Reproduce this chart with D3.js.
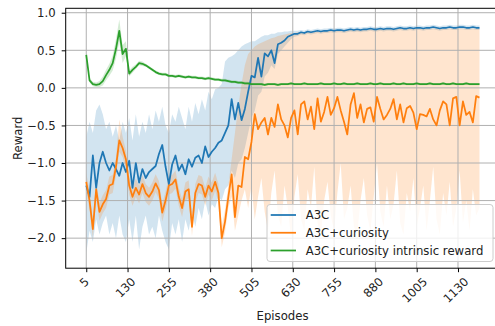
<!DOCTYPE html>
<html>
<head>
<meta charset="utf-8">
<script src="https://cdn.jsdelivr.net/npm/d3@7"></script>
<style>
  html, body { margin: 0; padding: 0; background: #fff; }
  svg { display: block; font-family: "DejaVu Sans", sans-serif; }
</style>
</head>
<body>
<svg id="chart" width="495" height="326"></svg>
<script>
////////////////////////////////////////////////////////////////////////////////
// Data (one value every 10 episodes)
var episodes = d3.range(5, 1200, 10)   // 5 .. 1195

var seriesNames = ["A3C", "A3C+curiosity", "A3C+curiosity intrinsic reward"]
var xTicks = [5, 130, 255, 380, 505, 630, 755, 880, 1005, 1130]
var yTicks = [-2.0, -1.5, -1.0, -0.5, 0.0, 0.5, 1.0]

var a3cMean = [
  -1.30, -1.45, -0.90, -1.33, -1.00, -0.85, -1.00, -1.10, -1.00, -1.08,
  -1.17, -1.00, -1.12, -0.97, -1.33, -1.00, -1.26, -1.08, -1.20, -1.12,
  -1.08, -1.04, -0.88, -0.76, -1.05, -1.28, -1.02, -0.90, -1.10, -1.02,
  -1.15, -0.95, -1.05, -0.93, -0.90, -1.00, -0.78, -0.92, -0.85, -0.80,
  -0.73, -0.70, -0.60, -0.50, -0.15, -0.42, -0.20, -0.43, -0.28, -0.05,
  0.16, 0.14, 0.40, 0.15, 0.46, 0.42, 0.50, 0.33, 0.58, 0.60,
  0.63, 0.68, 0.70, 0.72, 0.72, 0.74, 0.73, 0.75, 0.74, 0.75,
  0.76, 0.75, 0.76, 0.76, 0.77, 0.76, 0.77, 0.77, 0.76, 0.77,
  0.78, 0.77, 0.78, 0.77, 0.78, 0.78, 0.79, 0.78, 0.78, 0.79,
  0.78, 0.79, 0.79, 0.78, 0.79, 0.80, 0.79, 0.79, 0.80, 0.79,
  0.80, 0.80, 0.79, 0.80, 0.80, 0.81, 0.80, 0.79, 0.80, 0.80,
  0.81, 0.80, 0.80, 0.81, 0.81, 0.80, 0.80, 0.81, 0.80, 0.80
]
var a3cLo = [
  -2.20, -1.90, -2.05, -1.75, -1.95, -1.80, -1.70, -1.95, -1.80, -2.00,
  -1.70, -1.95, -2.05, -1.75, -2.05, -1.70, -2.15, -1.85, -1.70, -1.95,
  -1.85, -2.00, -1.70, -1.90, -2.05, -2.15, -1.80, -1.95, -1.75, -2.05,
  -1.75, -1.90, -1.65, -1.85, -1.60, -1.75, -1.50, -1.70, -1.55, -1.60,
  -1.45, -1.50, -1.35, -1.30, -1.10, -1.20, -1.00, -0.95, -0.80, -0.60,
  -0.40, -0.30, -0.10, -0.05, 0.15, 0.20, 0.30, 0.25, 0.45, 0.50,
  0.55, 0.60, 0.65, 0.68, 0.69, 0.71, 0.70, 0.72, 0.71, 0.72,
  0.73, 0.72, 0.73, 0.73, 0.74, 0.73, 0.74, 0.74, 0.73, 0.74,
  0.75, 0.74, 0.75, 0.74, 0.75, 0.75, 0.76, 0.75, 0.75, 0.76,
  0.75, 0.76, 0.76, 0.75, 0.76, 0.77, 0.76, 0.76, 0.77, 0.76,
  0.77, 0.77, 0.76, 0.77, 0.77, 0.78, 0.77, 0.76, 0.77, 0.77,
  0.78, 0.77, 0.77, 0.78, 0.78, 0.77, 0.77, 0.78, 0.77, 0.77
]
var a3cHi = [
  -0.65, -0.45, -0.60, -0.30, -0.22, -0.35, -0.55, -0.45, -0.65, -0.50,
  -0.70, -0.45, -0.60, -0.40, -0.70, -0.35, -0.65, -0.45, -0.60, -0.35,
  -0.55, -0.30, -0.45, -0.25, -0.50, -0.60, -0.35, -0.45, -0.25, -0.40,
  -0.55, -0.25, -0.45, -0.20, -0.35, -0.15, -0.30, -0.05, -0.15, -0.02,
  0.00, 0.05, 0.35, 0.40, 0.42, 0.45, 0.50, 0.55, 0.58, 0.60,
  0.62, 0.62, 0.65, 0.68, 0.70, 0.70, 0.72, 0.72, 0.74, 0.74,
  0.75, 0.75, 0.76, 0.76, 0.76, 0.77, 0.76, 0.78, 0.77, 0.78,
  0.79, 0.78, 0.79, 0.79, 0.80, 0.79, 0.80, 0.80, 0.79, 0.80,
  0.81, 0.80, 0.81, 0.80, 0.81, 0.81, 0.82, 0.81, 0.81, 0.82,
  0.81, 0.82, 0.82, 0.81, 0.82, 0.83, 0.82, 0.82, 0.83, 0.82,
  0.83, 0.83, 0.82, 0.83, 0.83, 0.84, 0.83, 0.82, 0.83, 0.83,
  0.84, 0.83, 0.83, 0.84, 0.84, 0.83, 0.83, 0.84, 0.83, 0.83
]

var curMean = [
  -1.25, -1.50, -1.88, -1.35, -1.65, -1.55, -1.48, -1.30, -1.28, -1.05,
  -0.70, -0.80, -0.95, -1.30, -1.45, -1.33, -1.42, -1.28, -1.40, -1.45,
  -1.38, -1.27, -1.36, -1.66, -1.50, -1.30, -1.28, -1.22, -1.45, -1.60,
  -1.38, -1.35, -1.85, -1.40, -1.28, -1.30, -1.45, -1.30, -1.38, -1.25,
  -1.40, -2.00, -1.78, -1.45, -1.15, -1.72, -1.30, -1.32, -0.92, -0.95,
  -0.72, -0.35, -0.55, -0.46, -0.40, -0.62, -0.40, -0.52, -0.22, -0.42,
  -0.50, -0.66, -0.40, -0.30, -0.62, -0.22, -0.18, -0.42, -0.25, -0.55,
  -0.14, -0.45, -0.32, -0.12, -0.36, -0.27, -0.12, -0.30, -0.45, -0.62,
  -0.22, -0.07, -0.40, -0.22, -0.46, -0.28, -0.26, -0.45, -0.12, -0.28,
  -0.42, -0.36, -0.28, -0.15, -0.42, -0.22, -0.46, -0.27, -0.24, -0.33,
  -0.55, -0.35, -0.36, -0.38, -0.28, -0.42, -0.50, -0.30, -0.18, -0.22,
  -0.50, -0.14, -0.12, -0.50, -0.18, -0.36, -0.32, -0.46, -0.11, -0.13
]
var curLo = [
  -1.37, -1.62, -2.00, -1.47, -1.77, -1.67, -1.60, -1.42, -1.40, -1.17,
  -0.85, -0.92, -1.07, -1.42, -1.57, -1.45, -1.54, -1.40, -1.52, -1.57,
  -1.50, -1.39, -1.48, -1.78, -1.62, -1.42, -1.40, -1.34, -1.57, -1.72,
  -1.50, -1.47, -1.97, -1.52, -1.40, -1.42, -1.57, -1.42, -1.50, -1.37,
  -1.52, -2.12, -1.92, -1.60, -1.45, -1.90, -1.70, -1.50, -1.35, -1.60,
  -1.30, -1.75, -1.45, -1.20, -1.65, -1.90, -1.40, -1.10, -1.70, -1.85,
  -1.30, -1.60, -2.00, -1.45, -1.15, -1.75, -1.90, -1.35, -1.60, -1.05,
  -1.80, -1.95, -1.50, -1.25, -1.70, -1.90, -1.40, -1.00, -1.75, -1.60,
  -1.30, -1.85, -1.95, -1.50, -1.20, -1.70, -1.90, -1.45, -1.00, -1.65,
  -1.85, -1.30, -1.75, -1.55, -1.10, -1.80, -1.95, -1.40, -1.65, -1.20,
  -1.85, -1.60, -1.30, -1.90, -1.50, -1.05, -1.75, -1.95, -1.40, -1.70,
  -1.25, -1.85, -1.60, -1.10, -1.80, -1.50, -1.90, -1.35, -1.70, -1.60
]
var curHi = [
  -1.13, -1.38, -1.76, -1.23, -1.53, -1.43, -1.36, -1.18, -1.16, -0.93,
  -0.42, -0.65, -0.83, -1.18, -1.33, -1.21, -1.30, -1.16, -1.28, -1.33,
  -1.26, -1.15, -1.24, -1.54, -1.38, -1.18, -1.16, -1.10, -1.33, -1.48,
  -1.26, -1.23, -1.73, -1.28, -1.16, -1.18, -1.33, -1.18, -1.26, -1.13,
  -1.28, -1.85, -1.62, -1.30, -0.95, -0.60, -0.25, 0.05, 0.30, 0.45,
  0.50, 0.55, 0.58, 0.60, 0.62, 0.64, 0.66, 0.67, 0.69, 0.70,
  0.71, 0.72, 0.73, 0.73, 0.74, 0.74, 0.74, 0.75, 0.75, 0.75,
  0.76, 0.75, 0.76, 0.76, 0.77, 0.76, 0.77, 0.77, 0.76, 0.77,
  0.77, 0.77, 0.78, 0.77, 0.78, 0.78, 0.78, 0.78, 0.78, 0.78,
  0.78, 0.78, 0.78, 0.78, 0.78, 0.79, 0.78, 0.78, 0.79, 0.78,
  0.79, 0.79, 0.78, 0.79, 0.79, 0.79, 0.79, 0.78, 0.79, 0.79,
  0.79, 0.79, 0.79, 0.79, 0.79, 0.79, 0.79, 0.79, 0.79, 0.79
]

var intMean = [
  0.44, 0.10, 0.05, 0.04, 0.05, 0.09, 0.17, 0.24, 0.33, 0.52,
  0.76, 0.45, 0.52, 0.19, 0.24, 0.28, 0.33, 0.32, 0.30, 0.27,
  0.24, 0.21, 0.19, 0.18, 0.18, 0.16, 0.16, 0.15, 0.16, 0.15,
  0.14, 0.15, 0.14, 0.14, 0.13, 0.13, 0.12, 0.13, 0.12, 0.11,
  0.11, 0.10, 0.10, 0.09, 0.08, 0.08, 0.07, 0.07, 0.06, 0.06,
  0.05, 0.05, 0.05, 0.05, 0.04, 0.05, 0.05, 0.05, 0.04, 0.05,
  0.05, 0.05, 0.06, 0.05, 0.05, 0.05, 0.06, 0.05, 0.05, 0.05,
  0.05, 0.06, 0.05, 0.05, 0.05, 0.06, 0.05, 0.05, 0.06, 0.05,
  0.05, 0.05, 0.06, 0.05, 0.05, 0.05, 0.06, 0.05, 0.05, 0.06,
  0.05, 0.05, 0.05, 0.06, 0.05, 0.05, 0.06, 0.05, 0.05, 0.05,
  0.06, 0.05, 0.05, 0.05, 0.06, 0.05, 0.05, 0.05, 0.06, 0.05,
  0.05, 0.06, 0.05, 0.05, 0.05, 0.06, 0.05, 0.05, 0.05, 0.05
]
var intSpread = [
  0.02, 0.03, 0.03, 0.03, 0.04, 0.06, 0.07, 0.08, 0.10, 0.13,
  0.15, 0.12, 0.10, 0.04, 0.04, 0.03, 0.03, 0.03, 0.02, 0.02,
  0.02, 0.02, 0.02, 0.02, 0.02, 0.02, 0.02, 0.02, 0.02, 0.02,
  0.02, 0.02, 0.02, 0.02, 0.02, 0.02, 0.02, 0.02, 0.02, 0.02,
  0.02, 0.02, 0.02, 0.02, 0.02, 0.02, 0.02, 0.02, 0.02, 0.02,
  0.015, 0.015, 0.015, 0.015, 0.015, 0.015, 0.015, 0.015, 0.015, 0.015,
  0.015, 0.015, 0.015, 0.015, 0.015, 0.015, 0.015, 0.015, 0.015, 0.015,
  0.015, 0.015, 0.015, 0.015, 0.015, 0.015, 0.015, 0.015, 0.015, 0.015,
  0.015, 0.015, 0.015, 0.015, 0.015, 0.015, 0.015, 0.015, 0.015, 0.015,
  0.015, 0.015, 0.015, 0.015, 0.015, 0.015, 0.015, 0.015, 0.015, 0.015,
  0.015, 0.015, 0.015, 0.015, 0.015, 0.015, 0.015, 0.015, 0.015, 0.015,
  0.015, 0.015, 0.015, 0.015, 0.015, 0.015, 0.015, 0.015, 0.015, 0.015
]

////////////////////////////////////////////////////////////////////////////////
// Layout
var colors = ["#1f77b4", "#ff7f0e", "#2ca02c"]
var fontSize = 11.7
var plot = {left: 65.7, right: 499.3, top: 8.3, bottom: 268.2}

var x = d3.scaleLinear().domain([-57.2, 1255]).range([plot.left, plot.right])
var y = d3.scaleLinear().domain([-2.4, 1.059]).range([plot.bottom, plot.top])

var series = [
  {name: seriesNames[0], color: colors[0], mean: a3cMean, lo: a3cLo, hi: a3cHi},
  {name: seriesNames[1], color: colors[1], mean: curMean, lo: curLo, hi: curHi},
  {name: seriesNames[2], color: colors[2], mean: intMean,
   lo: intMean.map((v, i) => v - intSpread[i]),
   hi: intMean.map((v, i) => v + intSpread[i])}
]
series.forEach(function(s) {
  s.rows = episodes.map((ep, i) => ({ep: ep, m: s.mean[i], lo: s.lo[i], hi: s.hi[i]}))
})

var svg = d3.select("#chart")
svg.append("rect").attr("width", 495).attr("height", 326).attr("fill", "#fff")

// bands
var area = d3.area()
  .x(d => x(d.ep))
  .y0(d => y(d.lo))
  .y1(d => y(d.hi))
svg.append("g").selectAll("path")
  .data(series)
  .join("path")
  .attr("d", s => area(s.rows))
  .attr("fill", s => s.color)
  .attr("fill-opacity", 0.2)

// grid
var grid = svg.append("g").attr("stroke", "#b0b0b0").attr("stroke-width", 1)
grid.selectAll("line.gx").data(xTicks).join("line")
  .attr("class", "gx")
  .attr("x1", d => x(d)).attr("x2", d => x(d))
  .attr("y1", plot.top).attr("y2", plot.bottom)
grid.selectAll("line.gy").data(yTicks).join("line")
  .attr("class", "gy")
  .attr("x1", plot.left).attr("x2", plot.right)
  .attr("y1", d => y(d)).attr("y2", d => y(d))

// mean lines
var line = d3.line().x(d => x(d.ep)).y(d => y(d.m))
svg.append("g").selectAll("path")
  .data(series)
  .join("path")
  .attr("d", s => line(s.rows))
  .attr("fill", "none")
  .attr("stroke", s => s.color)
  .attr("stroke-width", 1.75)
  .attr("stroke-linejoin", "round")

// axes
var xAxis = svg.append("g")
  .attr("transform", "translate(0," + plot.bottom + ")")
  .call(d3.axisBottom(x).tickValues(xTicks).tickFormat(d3.format("d"))
    .tickSize(4).tickSizeOuter(0))
xAxis.select(".domain").remove()
xAxis.selectAll("text")
  .attr("font-size", fontSize)
  .attr("font-family", "DejaVu Sans")
  .attr("fill", "#222")
  .attr("y", 0)
  .attr("dy", null)
  .attr("dominant-baseline", "central")
  .attr("text-anchor", "middle")
  .attr("transform", function() {
    var w = this.getComputedTextLength()
    var half = (w + 8.5) * 0.7071 / 2
    return "translate(-2.5," + (8.5 + half) + ") rotate(-45)"
  })

var yAxis = svg.append("g")
  .attr("transform", "translate(" + plot.left + ",0)")
  .call(d3.axisLeft(y).tickValues(yTicks).tickFormat(d3.format(".1f"))
    .tickSize(4).tickPadding(6).tickSizeOuter(0))
yAxis.select(".domain").remove()
yAxis.selectAll("text")
  .attr("font-size", fontSize)
  .attr("font-family", "DejaVu Sans")
  .attr("fill", "#222")
  .text(d => d3.format(".1f")(d).replace("-", "\u2212"))

// spines
var spines = svg.append("g").attr("stroke", "#000").attr("stroke-width", 1).attr("fill", "none")
spines.append("rect")
  .attr("x", plot.left).attr("y", plot.top)
  .attr("width", plot.right - plot.left).attr("height", plot.bottom - plot.top)

// axis titles
svg.append("text")
  .attr("x", (plot.left + plot.right) / 2).attr("y", 319.5)
  .attr("text-anchor", "middle")
  .attr("font-size", fontSize)
  .attr("fill", "#222")
  .text("Episodes")
svg.append("text")
  .attr("transform", "translate(21.5," + (plot.top + plot.bottom) / 2 + ") rotate(-90)")
  .attr("text-anchor", "middle")
  .attr("font-size", fontSize)
  .attr("fill", "#222")
  .text("Reward")

// legend
var legend = svg.append("g").attr("transform", "translate(267,204.5)")
legend.append("rect")
  .attr("width", 226).attr("height", 57)
  .attr("rx", 3)
  .attr("fill", "#fff").attr("fill-opacity", 0.8)
  .attr("stroke", "#cccccc").attr("stroke-width", 1)
var entry = legend.selectAll("g.entry")
  .data(series)
  .join("g")
  .attr("class", "entry")
  .attr("transform", (s, i) => "translate(0," + (10.5 + i * 17.75) + ")")
entry.append("line")
  .attr("x1", 3.7).attr("x2", 29)
  .attr("stroke", s => s.color)
  .attr("stroke-width", 1.75)
entry.append("text")
  .attr("x", 38.7)
  .attr("dominant-baseline", "central")
  .attr("font-size", fontSize)
  .attr("fill", "#222")
  .text(s => s.name)
</script>
</body>
</html>
